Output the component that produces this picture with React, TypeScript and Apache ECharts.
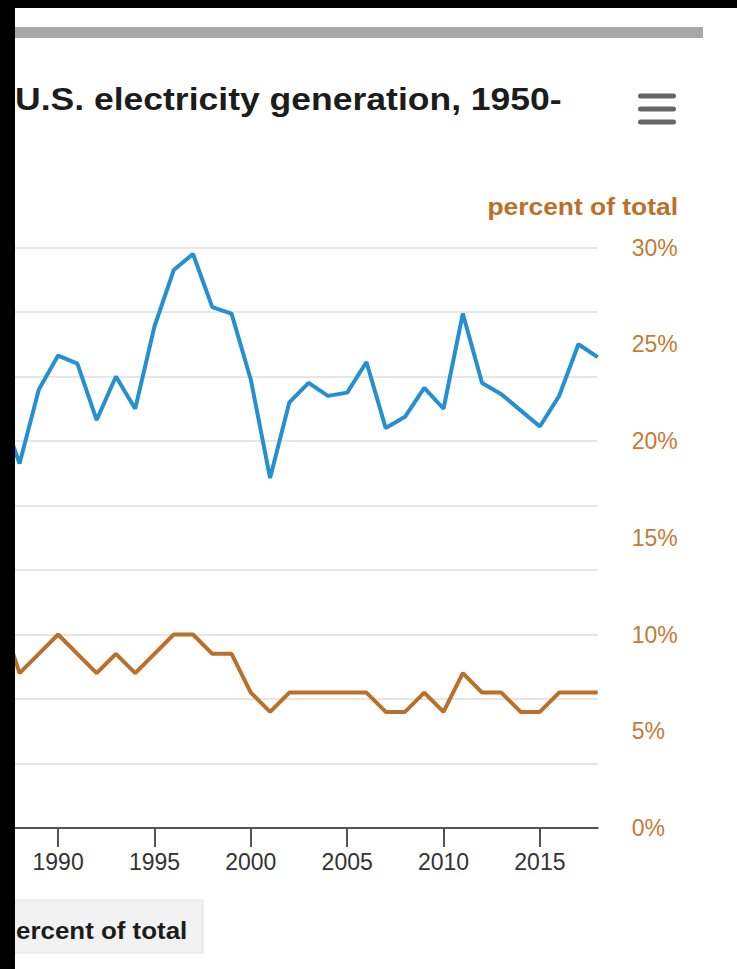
import React, { useEffect, useRef } from "react";
import * as echarts from "echarts";

const years = [
  "1987", "1988", "1989", "1990", "1991", "1992", "1993", "1994", "1995", "1996",
  "1997", "1998", "1999", "2000", "2001", "2002", "2003", "2004", "2005", "2006",
  "2007", "2008", "2009", "2010", "2011", "2012", "2013", "2014", "2015", "2016",
  "2017", "2018",
];

// hydroelectric generation (billion kWh, left axis, hidden labels)
const hydroGeneration = [
  260, 226, 272, 293, 288, 253, 280, 260, 311, 346,
  356, 323, 319, 278, 217, 264, 276, 268, 270, 289,
  248, 255, 273, 260, 319, 276, 269, 259, 249, 268,
  300, 292,
];

// hydroelectric share (percent of total, right axis)
const hydroShare = [
  11, 8, 9, 10, 9, 8, 9, 8, 9, 10,
  10, 9, 9, 7, 6, 7, 7, 7, 7, 7,
  6, 6, 7, 6, 8, 7, 7, 6, 6, 7,
  7, 7,
];

const titleText = "U.S. electricity generation, 1950-";
const rightAxisTitle = "percent of total";
const buttonText = "ercent of total";

const FONT = "Liberation Sans, Arial, sans-serif";
const ORANGE = "#bb6f28";
const ORANGE_TEXT = "#c47b35";
const BLUE = "#2490d2";

export default function App() {
  const ref = useRef<HTMLDivElement>(null);

  useEffect(() => {
    if (!ref.current) return;
    const chart = echarts.init(ref.current, undefined, { renderer: "svg" });
    chart.setOption({
      animation: false,
      backgroundColor: "#ffffff",
      grid: { left: 0.3, right: 139.3, top: 247.5, bottom: 141, containLabel: false },
      xAxis: {
        type: "category",
        data: years,
        boundaryGap: false,
        axisLine: { show: true, lineStyle: { color: "#555", width: 2 } },
        axisTick: {
          show: true,
          length: 19,
          interval: (_i: number, v: string) => Number(v) % 5 === 0,
          lineStyle: { color: "#555", width: 2 },
        },
        axisLabel: {
          interval: (_i: number, v: string) => Number(v) % 5 === 0,
          color: "#333",
          fontFamily: FONT,
          fontSize: 23,
          margin: 22,
        },
        splitLine: { show: false },
      },
      yAxis: [
        {
          type: "value",
          position: "left",
          min: 0,
          max: 360,
          interval: 40,
          axisLine: { show: false },
          axisTick: { show: false },
          axisLabel: { show: false },
          splitLine: { show: true, lineStyle: { color: "#e6e6e6", width: 2 } },
        },
        {
          type: "value",
          position: "right",
          min: 0,
          max: 30,
          interval: 5,
          axisLine: { show: false },
          axisTick: { show: false },
          splitLine: { show: false },
          axisLabel: {
            formatter: "{value}%",
            color: ORANGE_TEXT,
            fontFamily: FONT,
            fontSize: 23,
            margin: 34,
          },
        },
      ],
      series: [
        {
          type: "line",
          name: "generation",
          data: hydroGeneration,
          yAxisIndex: 0,
          showSymbol: false,
          symbol: "none",
          lineStyle: { color: BLUE, width: 4 },
          itemStyle: { color: BLUE },
          z: 3,
        },
        {
          type: "line",
          name: "share",
          data: hydroShare,
          yAxisIndex: 1,
          showSymbol: false,
          symbol: "none",
          lineStyle: { color: ORANGE, width: 4 },
          itemStyle: { color: ORANGE },
          z: 3,
        },
      ],
      graphic: [
        { type: "rect", z: 50, shape: { x: 15, y: 27, width: 688, height: 11 }, style: { fill: "#a8a8a8" } },
        {
          type: "text",
          z: 50,
          x: 15,
          y: 99,
          scaleX: 1.11,
          style: {
            text: titleText,
            x: 0,
            y: 0,
            textAlign: "left",
            textVerticalAlign: "middle",
            font: `bold 32px ${FONT}`,
            fill: "#1c1c1c",
          },
        },
        { type: "rect", z: 50, shape: { x: 638, y: 93.5, width: 38, height: 5, r: 2.5 }, style: { fill: "#666" } },
        { type: "rect", z: 50, shape: { x: 638, y: 106.5, width: 38, height: 5, r: 2.5 }, style: { fill: "#666" } },
        { type: "rect", z: 50, shape: { x: 638, y: 119.5, width: 38, height: 5, r: 2.5 }, style: { fill: "#666" } },
        {
          type: "text",
          z: 50,
          x: 678,
          y: 206,
          scaleX: 1.1,
          style: {
            text: rightAxisTitle,
            x: 0,
            y: 0,
            textAlign: "right",
            textVerticalAlign: "middle",
            font: `bold 24px ${FONT}`,
            fill: ORANGE,
          },
        },
        {
          type: "rect",
          z: 50,
          shape: { x: 0, y: 900, width: 203, height: 53 },
          style: { fill: "#f2f2f2", stroke: "#e2e2e2", lineWidth: 1 },
        },
        {
          type: "text",
          z: 51,
          x: 16,
          y: 930,
          scaleX: 1.08,
          style: {
            text: buttonText,
            x: 0,
            y: 0,
            textAlign: "left",
            textVerticalAlign: "middle",
            font: `bold 24px ${FONT}`,
            fill: "#1c1c1c",
          },
        },
        { type: "rect", z: 100, shape: { x: 0, y: 0, width: 15, height: 969 }, style: { fill: "#000" } },
        { type: "rect", z: 100, shape: { x: 0, y: 0, width: 737, height: 8 }, style: { fill: "#000" } },
      ],
    });
    return () => chart.dispose();
  }, []);

  return (
    <div
      ref={ref}
      style={{ position: "absolute", left: 0, top: 0, width: 737, height: 969 }}
    />
  );
}
